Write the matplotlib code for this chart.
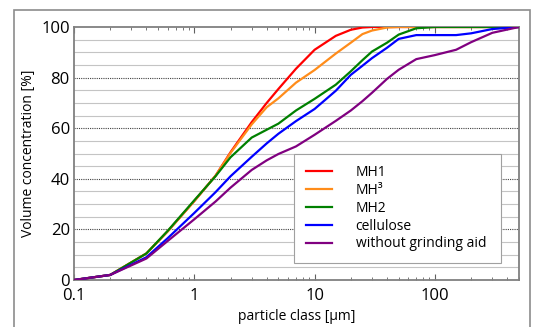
import matplotlib
matplotlib.use('Agg')
import matplotlib.pyplot as plt
from matplotlib.patches import Rectangle
from matplotlib.ticker import FixedLocator, FixedFormatter, LogLocator, NullFormatter

plt.rcParams['font.family'] = ['Open Sans', 'DejaVu Sans']

# particle classes [um]
sizes = [0.1, 0.2, 0.4, 0.6, 1, 1.5, 2, 3, 4, 5, 7, 10, 15, 20, 25, 30, 40, 50, 70, 100, 150, 200, 300, 500]

mh1 = [0, 2, 10.5, 19.2, 31.2, 41.2, 50.5, 62.4, 70, 75.5, 83.5, 91, 96.5, 98.9, 99.8, 100, 100, 100, 100, 100, 100, 100, 100, 100]
mh3 = [0, 2, 10.5, 19.2, 31.2, 41.2, 50.2, 61.5, 68.3, 71.8, 78, 83, 89.5, 93.8, 97.2, 98.6, 99.8, 100, 100, 100, 100, 100, 100, 100]
mh2 = [0, 2, 10.5, 19.4, 31.5, 41, 48.5, 56.3, 59.4, 61.8, 67, 71.6, 77.2, 82.5, 86.9, 90.3, 93.8, 97, 99.5, 100, 100, 100, 100, 100]
cellulose = [0, 2, 9, 16.5, 26.5, 34.7, 41, 48.7, 54, 57.8, 62.8, 67.6, 74.8, 81.1, 84.7, 87.7, 91.8, 95.3, 96.8, 96.8, 96.8, 97.5, 99.2, 100]
no_aid = [0, 2, 8.5, 15.4, 24, 31, 36.5, 43.5, 47.3, 49.8, 52.8, 57.4, 62.9, 67, 70.7, 74, 79.5, 83.1, 87.3, 88.9, 91, 94, 97.7, 100]

series = [
    ('MH1', mh1, '#ff0000'),
    ('MH³', mh3, '#ff8c1a'),
    ('MH2', mh2, '#008000'),
    ('cellulose', cellulose, '#0000ff'),
    ('without grinding aid', no_aid, '#800080'),
]

fig = plt.figure(figsize=(5.34, 3.27), dpi=100)
# outer frame
fig.patches.append(Rectangle((14 / 534, -0.05), (530 - 14) / 534, 1.05 - 10 / 327,
                             transform=fig.transFigure, fill=False,
                             edgecolor='#8c8c8c', linewidth=1.2))

ax = fig.add_axes([74 / 534, 1 - 280 / 327, (519 - 74) / 534, (280 - 27) / 327])

for label, vals, col in series:
    ax.plot(sizes, vals, color=col, linewidth=1.6, label=label, zorder=3,
            solid_joinstyle='round')

ax.set_xscale('log')
ax.set_xlim(0.1, 500)
ax.set_ylim(0, 100)

# grid
for yv in range(5, 100, 5):
    if yv % 20 == 0:
        ax.axhline(yv, color='#404040', linestyle=(0, (1, 1)), linewidth=0.8, zorder=1)
    else:
        ax.axhline(yv, color='#c4c4c4', linewidth=0.8, zorder=1)

ax.xaxis.set_major_locator(FixedLocator([0.1, 1, 10, 100]))
ax.xaxis.set_major_formatter(FixedFormatter(['0.1', '1', '10', '100']))
ax.xaxis.set_minor_locator(LogLocator(base=10, subs=range(2, 10)))
ax.xaxis.set_minor_formatter(NullFormatter())
ax.tick_params(axis='x', which='both', direction='in', top=True, color='#606060',
               labelsize=12, pad=6)
ax.tick_params(axis='x', which='major', length=4, width=0.8)
ax.tick_params(axis='x', which='minor', length=2.5, width=0.6)
ax.set_yticks([0, 20, 40, 60, 80, 100])
ax.tick_params(axis='y', length=0, labelsize=12, pad=3)

for s in ax.spines.values():
    s.set_color('#808080')
    s.set_linewidth(1.3)

ax.set_xlabel('particle class [µm]', fontsize=10, labelpad=3)
ax.set_ylabel('Volume concentration [%]', fontsize=10, labelpad=4)

leg = ax.legend(loc='upper left', bbox_to_anchor=(0.494, 0.5, 0.466, 0.0), mode='expand',
                fontsize=10, frameon=True, fancybox=False, handlelength=1.9,
                handletextpad=1.7, labelspacing=0.2, borderpad=0.85, borderaxespad=0)
leg.get_frame().set_edgecolor('#a0a0a0')
leg.get_frame().set_linewidth(0.8)
leg.get_frame().set_alpha(1)

fig.savefig('out.png', dpi=100)
